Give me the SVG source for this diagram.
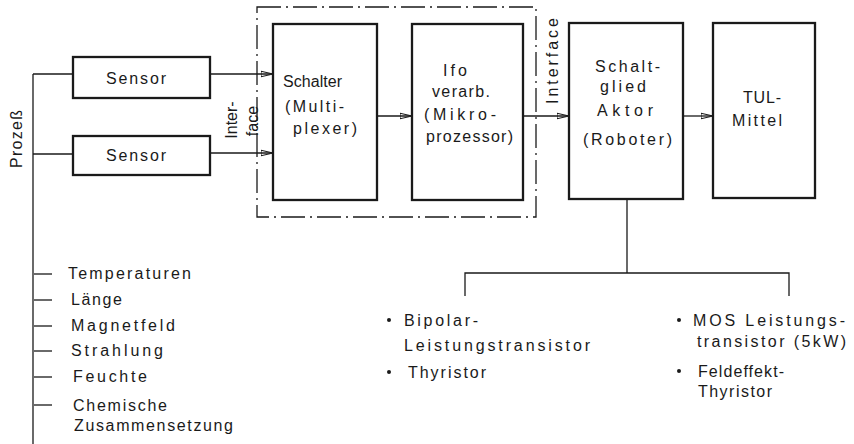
<svg xmlns="http://www.w3.org/2000/svg" width="854" height="444" viewBox="0 0 854 444">
<defs>
<style>
text{font-family:"Liberation Sans","DejaVu Sans",sans-serif;font-size:16px;fill:#1a1a1a}
.box{fill:none;stroke:#1a1a1a;stroke-width:2.3}
.ln{fill:none;stroke:#1a1a1a;stroke-width:1.3}
.dd{fill:none;stroke:#1a1a1a;stroke-width:1.3;stroke-dasharray:24 5 2 5}
</style>
<marker id="arr" markerUnits="userSpaceOnUse" markerWidth="13" markerHeight="8" refX="12" refY="4" orient="auto">
<path d="M0,1.3 L12,4 L0,6.7 Z" fill="none" stroke="#1a1a1a" stroke-width="1.1"/>
</marker>
</defs>
<rect width="854" height="444" fill="#fff"/>

<g id="connectors">
<line class="ln" x1="33" y1="74" x2="33" y2="444"/>
<line class="ln" x1="33" y1="74" x2="73" y2="74"/>
<line class="ln" x1="33" y1="154" x2="73" y2="154"/>
<line class="ln" x1="210" y1="74" x2="273" y2="74" marker-end="url(#arr)"/>
<line class="ln" x1="210" y1="153" x2="273" y2="153" marker-end="url(#arr)"/>
<line class="ln" x1="377" y1="116" x2="412" y2="116" marker-end="url(#arr)"/>
<line class="ln" x1="523" y1="116" x2="569" y2="116" marker-end="url(#arr)"/>
<line class="ln" x1="683" y1="116" x2="713" y2="116" marker-end="url(#arr)"/>
<polyline class="ln" points="627,199 627,273"/>
<polyline class="ln" points="465,296 465,273 789,273 789,296"/>
<line class="ln" x1="34" y1="274" x2="52" y2="274"/>
<line class="ln" x1="34" y1="300" x2="52" y2="300"/>
<line class="ln" x1="34" y1="326" x2="52" y2="326"/>
<line class="ln" x1="34" y1="351" x2="52" y2="351"/>
<line class="ln" x1="34" y1="377" x2="52" y2="377"/>
<line class="ln" x1="34" y1="405" x2="52" y2="405"/>
</g>

<g id="interface-box">
<rect class="dd" x="257" y="7" width="279" height="210"/>
</g>

<g id="prozess">
<text transform="translate(22,139) rotate(-90)" text-anchor="middle" textLength="58" lengthAdjust="spacing">Prozeß</text>
</g>

<g id="sensor1">
<rect class="box" x="73" y="57" width="137" height="41"/>
<text x="106" y="84" textLength="60" lengthAdjust="spacing">Sensor</text>
</g>
<g id="sensor2">
<rect class="box" x="73" y="136" width="137" height="39"/>
<text x="106" y="161" textLength="60" lengthAdjust="spacing">Sensor</text>
</g>

<g id="interface-left">
<text transform="translate(237,120) rotate(-90)" text-anchor="middle">Inter-</text>
<text transform="translate(258,121) rotate(-90)" text-anchor="middle">face</text>
</g>

<g id="schalter">
<rect class="box" x="273" y="24" width="104" height="176"/>
<text x="283" y="87" textLength="59" lengthAdjust="spacing">Schalter</text>
<text x="285" y="112" textLength="59" lengthAdjust="spacing">(Multi-</text>
<text x="293" y="134" textLength="64" lengthAdjust="spacing">plexer)</text>
</g>

<g id="ifo">
<rect class="box" x="412" y="24" width="111" height="176"/>
<text x="443" y="76" textLength="24" lengthAdjust="spacing">Ifo</text>
<text x="432" y="97" textLength="58" lengthAdjust="spacing">verarb.</text>
<text x="424" y="120" textLength="72" lengthAdjust="spacing">(Mikro-</text>
<text x="426" y="142" textLength="87" lengthAdjust="spacing">prozessor)</text>
</g>

<g id="interface-right">
<text transform="translate(558,61) rotate(-90)" text-anchor="middle" textLength="86" lengthAdjust="spacing">Interface</text>
</g>

<g id="schaltglied">
<rect class="box" x="569" y="23" width="114" height="176"/>
<text x="595" y="72" textLength="65" lengthAdjust="spacing">Schalt-</text>
<text x="600" y="92" textLength="46" lengthAdjust="spacing">glied</text>
<text x="597" y="116" textLength="56" lengthAdjust="spacing">Aktor</text>
<text x="583" y="145" textLength="89" lengthAdjust="spacing">(Roboter)</text>
</g>

<g id="tul">
<rect class="box" x="713" y="23" width="102" height="175"/>
<text x="743" y="103" textLength="38" lengthAdjust="spacing">TUL-</text>
<text x="732" y="126" textLength="50" lengthAdjust="spacing">Mittel</text>
</g>

<g id="groessen">
<text x="68" y="279" textLength="123" lengthAdjust="spacing">Temperaturen</text>
<text x="71" y="305" textLength="51" lengthAdjust="spacing">Länge</text>
<text x="71" y="331" textLength="104" lengthAdjust="spacing">Magnetfeld</text>
<text x="71" y="356" textLength="92" lengthAdjust="spacing">Strahlung</text>
<text x="73" y="382" textLength="74" lengthAdjust="spacing">Feuchte</text>
<text x="73" y="411" textLength="94" lengthAdjust="spacing">Chemische</text>
<text x="74" y="431" textLength="159" lengthAdjust="spacing">Zusammensetzung</text>
</g>

<g id="bauelemente-links">
<circle cx="389" cy="320" r="2" fill="#1a1a1a"/>
<text x="404" y="326" textLength="74" lengthAdjust="spacing">Bipolar-</text>
<text x="404" y="351" textLength="186" lengthAdjust="spacing">Leistungstransistor</text>
<circle cx="389" cy="372" r="2" fill="#1a1a1a"/>
<text x="408" y="378" textLength="78" lengthAdjust="spacing">Thyristor</text>
</g>

<g id="bauelemente-rechts">
<circle cx="679" cy="320" r="2" fill="#1a1a1a"/>
<text x="693" y="326" textLength="152" lengthAdjust="spacing">MOS Leistungs-</text>
<text x="697" y="347" textLength="149" lengthAdjust="spacing">transistor (5kW)</text>
<circle cx="679" cy="371" r="2" fill="#1a1a1a"/>
<text x="698" y="377" textLength="86" lengthAdjust="spacing">Feldeffekt-</text>
<text x="698" y="397" textLength="74" lengthAdjust="spacing">Thyristor</text>
</g>
</svg>
